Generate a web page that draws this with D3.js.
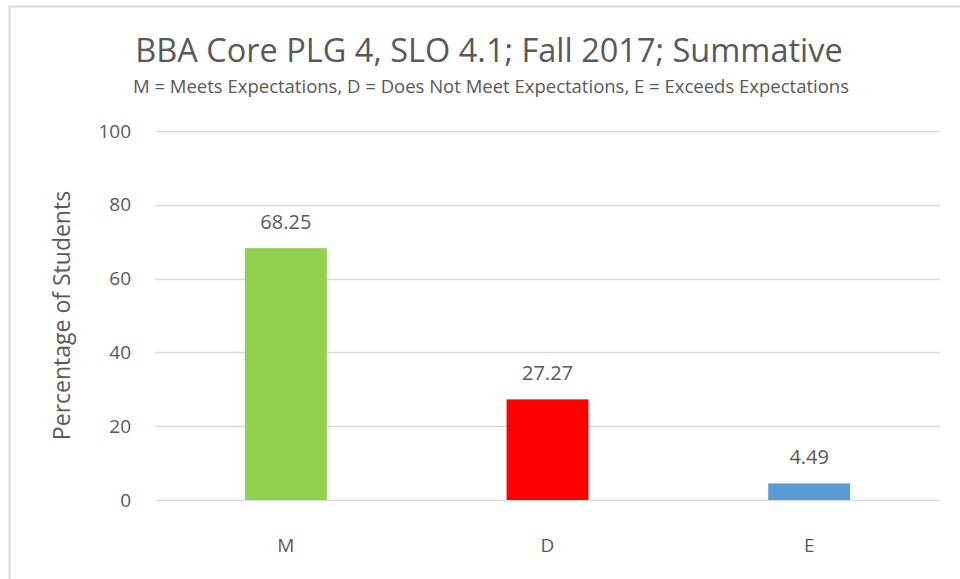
<!DOCTYPE html>
<html>
<head>
<meta charset="utf-8">
<script src="https://cdn.jsdelivr.net/npm/d3@7"></script>
<style>
  body { margin: 0; background: #fff; }
  text { font-family: "Open Sans", sans-serif; fill: #595959; }
</style>
</head>
<body>
<div id="chart"></div>
<script>
var categories = ["M", "D", "E"];
var values = [68.25, 27.27, 4.49];
var barColors = ["#92D050", "#FF0000", "#5B9BD5"];
var yTicks = [0, 20, 40, 60, 80, 100];

var width = 960, height = 579;
var margin = {top: 131, left: 155, bottom: 79, right: 20};

var svg = d3.select("#chart").append("svg")
  .attr("width", width)
  .attr("height", height);

// chart frame
svg.append("rect")
  .attr("x", 9.5).attr("y", 6.5)
  .attr("width", 980).attr("height", 600)
  .attr("fill", "none")
  .attr("stroke", "#d9d9d9")
  .attr("stroke-width", 2);

var x = d3.scaleBand()
  .domain(categories)
  .range([margin.left, width - margin.right])
  .paddingInner(0.687)
  .paddingOuter(0.3435);

var y = d3.scaleLinear()
  .domain([0, 100])
  .range([height - margin.bottom, margin.top]);

// gridlines
svg.append("g").selectAll("line").data(yTicks)
  .enter().append("line")
  .attr("x1", margin.left)
  .attr("x2", width - margin.right)
  .attr("y1", function(d) { return Math.round(y(d)) + 0.5; })
  .attr("y2", function(d) { return Math.round(y(d)) + 0.5; })
  .attr("stroke", "#d9d9d9")
  .attr("stroke-width", 1.3);

// y tick labels
svg.append("g").selectAll("text").data(yTicks)
  .enter().append("text")
  .attr("x", 131)
  .attr("y", function(d) { return y(d); })
  .attr("dy", "0.35em")
  .attr("text-anchor", "end")
  .style("font-size", "19px")
  .text(function(d) { return d; });

// bars
svg.append("g").selectAll("rect").data(values)
  .enter().append("rect")
  .attr("x", function(d, i) { return x(categories[i]); })
  .attr("y", function(d) { return y(d); })
  .attr("width", x.bandwidth())
  .attr("height", function(d) { return y(0) - y(d); })
  .attr("fill", function(d, i) { return barColors[i]; });

// data labels
svg.append("g").selectAll("text").data(values)
  .enter().append("text")
  .attr("x", function(d, i) { return x(categories[i]) + x.bandwidth() / 2; })
  .attr("y", function(d) { return y(d) - 19; })
  .attr("text-anchor", "middle")
  .style("font-size", "20px")
  .text(function(d) { return d.toFixed(2); });

// x labels
svg.append("g").selectAll("text").data(categories)
  .enter().append("text")
  .attr("x", function(d) { return x(d) + x.bandwidth() / 2; })
  .attr("y", 552)
  .attr("text-anchor", "middle")
  .style("font-size", "19px")
  .text(function(d) { return d; });

// y axis title
svg.append("text")
  .attr("transform", "translate(70," + ((y(0) + y(100)) / 2) + ") rotate(-90)")
  .attr("text-anchor", "middle")
  .style("font-size", "23px")
  .text("Percentage of Students");

// title
svg.append("text")
  .attr("x", 489).attr("y", 62)
  .attr("text-anchor", "middle")
  .style("font-size", "32.5px")
  .text("BBA Core PLG 4, SLO 4.1; Fall 2017; Summative");

svg.append("text")
  .attr("x", 491).attr("y", 93)
  .attr("text-anchor", "middle")
  .style("font-size", "18.5px")
  .text("M = Meets Expectations, D = Does Not Meet Expectations, E = Exceeds Expectations");
</script>
</body>
</html>
